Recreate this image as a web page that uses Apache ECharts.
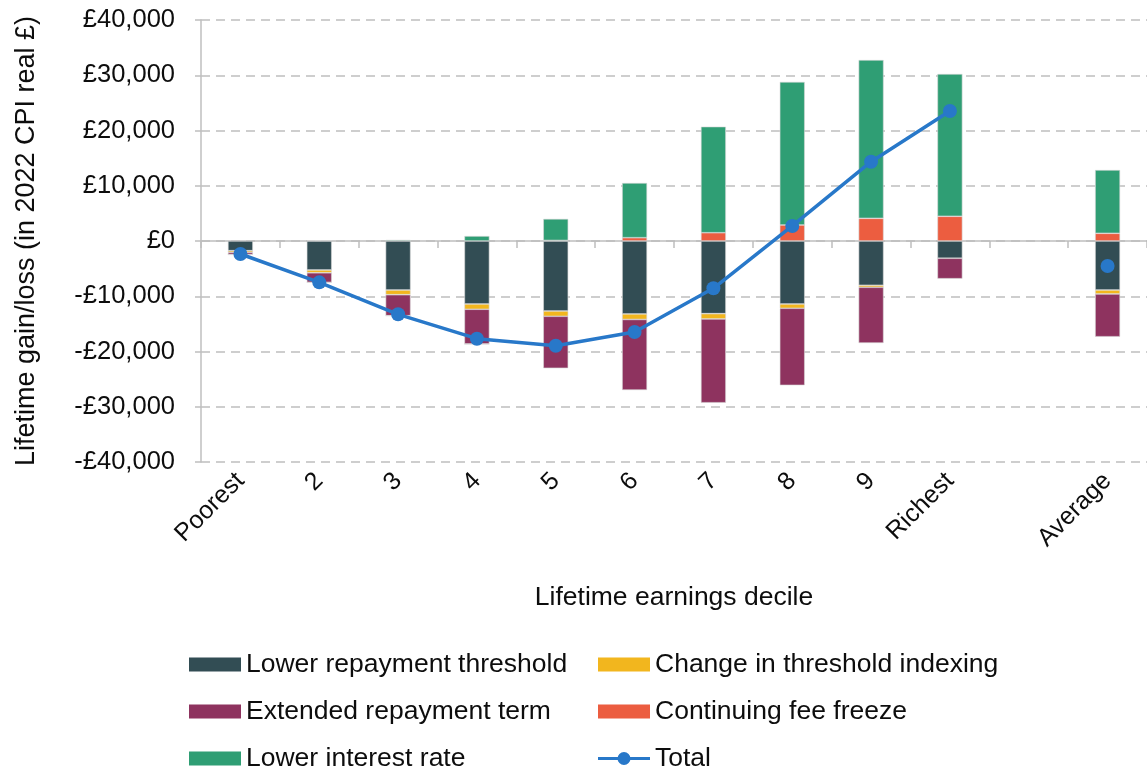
<!DOCTYPE html>
<html>
<head>
<meta charset="utf-8">
<script src="https://cdn.jsdelivr.net/npm/echarts@6/dist/echarts.min.js"></script>
<style>
html,body{margin:0;padding:0;background:#fff;}
#chart{width:1147px;height:771px;}
</style>
</head>
<body>
<div id="chart"></div>
<script>
var categories = ['Poorest','2','3','4','5','6','7','8','9','Richest','','Average'];
var lowerThreshold = [-1750, -5250, -8870, -11400, -12670, -13200, -13150, -11400, -8020, -3130, null, -8870];
var thresholdIndexing = [-300, -500, -850, -960, -960, -1000, -960, -780, -360, 0, null, -720];
var extendedTerm = [-400, -1750, -3800, -6300, -9400, -12780, -15160, -13940, -10080, -3690, null, -7730];
var feeFreeze = [0, 0, 0, 0, 100, 600, 1500, 2900, 4100, 4470, null, 1390];
var lowerInterest = [0, 100, 200, 900, 3900, 9900, 19200, 25900, 28660, 25760, null, 11460];
var total = [-2350, -7480, -13270, -17680, -18950, -16470, -8560, 2720, 14350, 23530, null, -4520];
var yTicks = [-40000, -30000, -20000, -10000, 0, 10000, 20000, 30000, 40000];

var FONT = '"Liberation Sans", Arial, sans-serif';
var GREY = '#BFBFBF';
var TEXT = '#0d0d0d';

function fmt(v) {
  var a = Math.abs(v).toLocaleString('en-GB');
  return (v < 0 ? '-£' : '£') + a;
}

function barSeries(name, data, color) {
  return {
    name: name, type: 'bar', stack: 'all', data: data,
    xAxisIndex: 0, yAxisIndex: 0,
    barWidth: 25,
    itemStyle: { color: color, borderColor: '#d6d6d6', borderWidth: 0.6 },
    emphasis: { disabled: true }
  };
}

var legendText = { fontFamily: FONT, fontSize: 26.5, color: TEXT, lineHeight: 26 };
var totalIcon = 'path://M0,5.5 H20 V8.5 H0 Z M32,5.5 H52 V8.5 H32 Z M19.5,7 A6.5,6.5 0 1,1 32.5,7 A6.5,6.5 0 1,1 19.5,7 Z';

var chart = echarts.init(document.getElementById('chart'), null, { renderer: 'canvas' });
chart.setOption({
  animation: false,
  textStyle: { fontFamily: FONT },
  grid: { left: 201, top: 20, width: 950, height: 442, containLabel: false },
  legend: [
    {
      orient: 'vertical', left: 189, top: 651, height: 400, padding: 0,
      itemWidth: 52, itemHeight: 14, itemGap: 20, icon: 'rect',
      itemStyle: { borderWidth: 0 },
      data: ['Lower repayment threshold', 'Extended repayment term', 'Lower interest rate'],
      textStyle: legendText,
      selectedMode: false
    },
    {
      orient: 'vertical', left: 598, top: 651, height: 400, padding: 0,
      itemWidth: 52, itemHeight: 14, itemGap: 20,
      itemStyle: { borderWidth: 0 },
      data: [
        { name: 'Change in threshold indexing', icon: 'rect' },
        { name: 'Continuing fee freeze', icon: 'rect' },
        { name: 'Total', icon: totalIcon }
      ],
      textStyle: legendText,
      selectedMode: false
    }
  ],
  xAxis: [
    {
      type: 'category', data: categories, position: 'bottom',
      axisLine: { show: false, onZero: false },
      axisTick: { show: false },
      axisLabel: { rotate: 45, margin: 15, fontSize: 25, color: TEXT, fontFamily: FONT, interval: 0 },
      name: 'Lifetime earnings decile', nameLocation: 'middle', nameGap: 122,
      nameTextStyle: { fontSize: 26.5, color: TEXT, fontFamily: FONT }
    },
    {
      type: 'category', data: categories, position: 'bottom',
      axisLine: { show: true, onZero: true, lineStyle: { color: GREY, width: 1.5 } },
      axisTick: { show: true, length: 7, lineStyle: { color: GREY, width: 1.5 } },
      axisLabel: { show: false }
    }
  ],
  yAxis: {
    type: 'value', min: -40000, max: 40000, interval: 10000,
    axisLine: { show: true, lineStyle: { color: GREY, width: 1.5 } },
    axisTick: { show: true, length: 6, lineStyle: { color: GREY, width: 1.5 } },
    splitLine: { show: true, lineStyle: { color: GREY, width: 1.5, type: [9, 6] } },
    axisLabel: {
      fontSize: 25.5, color: TEXT, fontFamily: FONT, margin: 26,
      formatter: function (v) { return yTicks.indexOf(v) >= 0 ? fmt(v) : ''; }
    },
    name: 'Lifetime gain/loss (in 2022 CPI real £)', nameLocation: 'middle', nameGap: 161,
    nameTextStyle: { fontSize: 27, color: TEXT, fontFamily: FONT }
  },
  series: [
    barSeries('Lower repayment threshold', lowerThreshold, '#324D54'),
    barSeries('Change in threshold indexing', thresholdIndexing, '#F2B61E'),
    barSeries('Extended repayment term', extendedTerm, '#8E335F'),
    barSeries('Continuing fee freeze', feeFreeze, '#EC5D40'),
    barSeries('Lower interest rate', lowerInterest, '#2F9E74'),
    {
      name: 'Total', type: 'line', data: total, xAxisIndex: 0, yAxisIndex: 0,
      symbol: 'circle', symbolSize: 14, showSymbol: true, showAllSymbol: true,
      connectNulls: false, z: 10,
      lineStyle: { color: '#2878C9', width: 3.5 },
      itemStyle: { color: '#2878C9' },
      emphasis: { disabled: true }
    }
  ]
});
</script>
</body>
</html>
